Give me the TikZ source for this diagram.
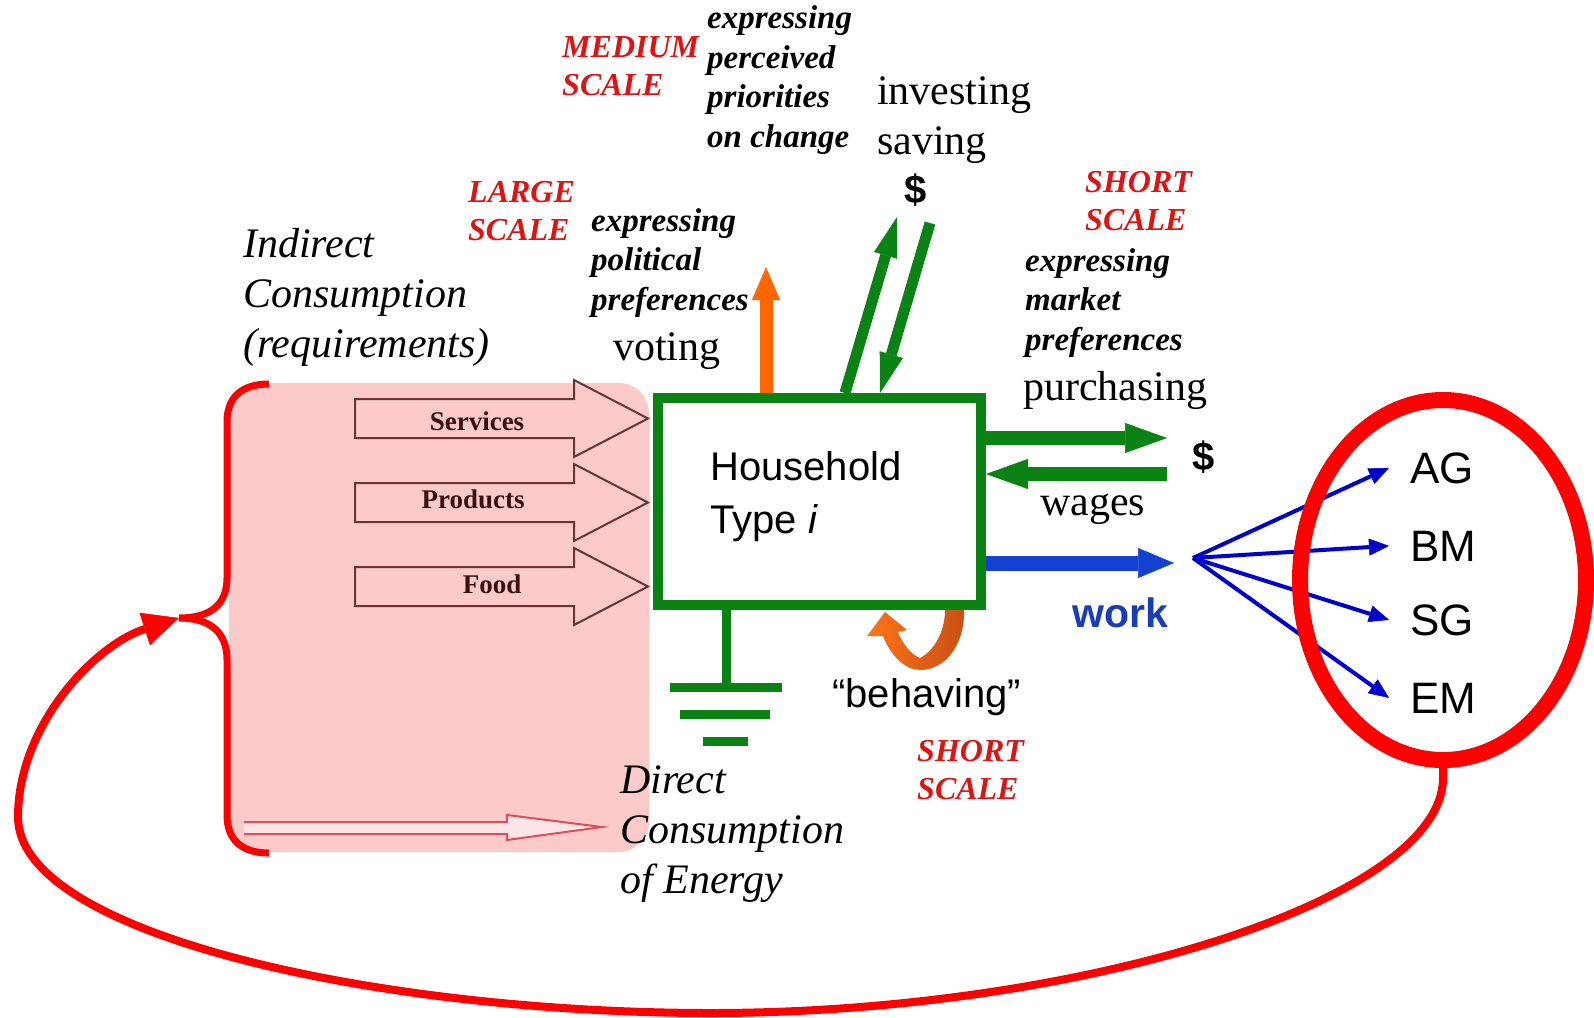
\documentclass[tikz,border=0pt]{standalone}
\usepackage{fontspec}
\setmainfont{Liberation Serif}
\newfontfamily\arialfont{Liberation Sans}
\usetikzlibrary{arrows.meta,shapes.geometric,calc}

\definecolor{hgreen}{RGB}{10,130,20}
\definecolor{scalered}{RGB}{220,20,20}
\definecolor{loopred}{RGB}{255,0,0}
\definecolor{pinkbg}{RGB}{253,202,202}
\definecolor{flowbrown}{RGB}{110,50,50}
\definecolor{flowtext}{RGB}{60,15,15}
\definecolor{energyred}{RGB}{215,80,95}
\definecolor{voteorange}{RGB}{255,102,0}
\definecolor{behavelight}{RGB}{255,115,25}
\definecolor{behavedark}{RGB}{200,80,20}
\definecolor{fanblue}{RGB}{0,0,205}
\definecolor{workblue}{RGB}{20,65,210}
\definecolor{worktext}{RGB}{25,60,185}

\begin{document}
\begin{tikzpicture}[x=1pt,y=-1pt,
  txt/.style={inner sep=0pt, anchor=base west, align=left},
  scalelbl/.style={txt, text=scalered, font=\bfseries\itshape\fontsize{32}{38}\selectfont},
  expr/.style={txt, font=\bfseries\itshape\fontsize{33}{39.5}\selectfont},
  act/.style={txt, font=\fontsize{42}{50}\selectfont},
  cons/.style={txt, font=\itshape\fontsize{42}{50}\selectfont},
  sans/.style={txt, font=\arialfont\fontsize{40}{53}\selectfont},
  flowlbl/.style={inner sep=0pt, anchor=base, text=flowtext, font=\bfseries\fontsize{27}{30}\selectfont},
  sector/.style={inner sep=0pt, anchor=base west, font=\arialfont\fontsize{44}{50}\selectfont},
  dollar/.style={inner sep=0pt, font=\arialfont\bfseries\fontsize{40}{44}\selectfont},
  flowarrow/.style={draw=flowbrown, line width=2pt, line join=miter},
  greenflow/.style={draw=hgreen, line width=14pt, -{Triangle[length=42pt,width=30pt,line width=0.5pt]}},
  greenslant/.style={draw=hgreen, line width=11pt, -{Triangle[length=40pt,width=24pt,line width=0.5pt]}},
  fanarrow/.style={draw=fanblue, line width=4pt, -{Triangle[length=20pt,width=17pt,line width=0.5pt]}},
  groundbar/.style={draw=hgreen, line width=9pt}
]
\useasboundingbox (0,0) rectangle (1594,1017);

% shaded area of indirect consumption
\fill[pinkbg, rounded corners=30pt] (229,383) rectangle (649,852);

% block arrows for the consumed goods
\foreach \c in {418.5,502.5,586.5}
  \draw[flowarrow] (355,\c-19.5) -- (574,\c-19.5) -- (574,\c-38.5) -- (648,\c)
    -- (574,\c+38.5) -- (574,\c+19.5) -- (355,\c+19.5) -- cycle;
\node[flowlbl] (svc) at (477,430) {Services};
\node[flowlbl] (prd) at (473,508) {Products};
\node[flowlbl] (fd)  at (492,593) {Food};

% thin energy arrow
\draw[energyred, line width=2pt, fill=pinkbg!50!white] (244,822) -- (507,822) -- (507,815)
  -- (602,827) -- (507,840) -- (507,834) -- (244,834);

% bracket around the consumption area
\coordinate (bracetip) at (179,618);
\draw[loopred, line width=7pt] (269,384) .. controls (242,384) and (227,397) .. (227,422)
  -- (227,578) .. controls (227,605) and (210,618) .. (bracetip)
  .. controls (210,618) and (227,632) .. (227,660)
  -- (227,815) .. controls (227,840) and (242,853) .. (269,853);

% "behaving" loop below the household
\shade[left color=behavelight, right color=behavedark]
  (964,606) .. controls (966,645) and (945,670) .. (920,670)
  .. controls (905,670) and (890,655) .. (883,636)
  -- (867,636) -- (885,612) -- (907,630) -- (898,632)
  .. controls (903,645) and (912,655) .. (920,658)
  .. controls (935,650) and (946,630) .. (945,606) -- cycle;

% household box
\node[draw=hgreen, line width=10pt, minimum width=323pt, minimum height=207pt, inner sep=0pt]
  (hh) at (819.5,501.5) {};
\node[sans] (hhlabel) at (710,533) {Household\\Type \textit{i}};

% ground symbol
\coordinate (gnd) at (726,687);
\draw[hgreen, line width=9pt] ($(hh.south)+(-93.5,0)$) -- (gnd);
\draw[groundbar] (670,687) -- (782,687);
\draw[groundbar] (680,714) -- (770,714);
\draw[groundbar] (703,741) -- (748,741);

% voting
\coordinate (votetip) at (766,267);
\draw[voteorange, line width=13pt, -{Triangle[length=33pt,width=28pt,line width=0.5pt]}]
  ($(hh.north)+(-53.5,0)$) -- (votetip);

% investing / saving
\coordinate (invtip) at (897,217);
\coordinate (savestart) at (930,223);
\draw[greenslant] ($(hh.north)+(25.5,0)$) -- (invtip);
\draw[greenslant] (savestart) -- ($(hh.north)+(60.5,0)$);
\node[dollar] (dtop) at (916,190) {\$};

% purchasing / wages / work
\coordinate (purch) at (1167,438);
\coordinate (wagein) at (1167,474);
\coordinate (worktip) at (1174,563);
\draw[greenflow] (hh.east |- purch) -- (purch);
\draw[greenflow] (wagein) -- (hh.east |- wagein);
\draw[workblue, line width=15pt, -{Triangle[length=36pt,width=30pt,line width=0.5pt]}]
  (hh.east |- worktip) -- (worktip);
\node[dollar] (dright) at (1204,457) {\$};

% economic sectors
\node[sector] (ag) at (1410,483) {AG};
\node[sector] (bm) at (1410,561) {BM};
\node[sector] (sg) at (1410,635) {SG};
\node[sector] (em) at (1410,713) {EM};
\coordinate (fan) at (1193,558);
\foreach \s in {ag,bm,sg,em}
  \draw[fanarrow] (fan) -- ([xshift=-21pt]\s.west);
\node[draw=loopred, line width=16pt, ellipse, minimum width=286pt, minimum height=360pt, inner sep=0pt]
  (sectors) at (1443,580) {};

% feedback loop from the sectors back to consumption
\draw[loopred, line width=8pt, -{Triangle[length=36pt,width=34pt,line width=0.5pt]}]
  (sectors.south) -- ++(0,10)
  .. controls (1443,900) and (1080,1013) .. (711,1013)
  .. controls (380,1013) and (18,935) .. (18,817)
  .. controls (18,725) and (95,645) .. (bracetip);

% labels
\node[scalelbl] (medium) at (562,95) {MEDIUM\\SCALE};
\node[expr] (medexp) at (707,147) {expressing\\perceived\\priorities\\on change};
\node[act] (invest) at (877,154) {investing\\saving};
\node[scalelbl] (large) at (468,240) {LARGE\\SCALE};
\node[expr] (polexp) at (591,310) {expressing\\political\\preferences};
\node[act] (voting) at (613,360) {voting};
\node[cons] (indirect) at (243,357) {Indirect\\Consumption\\(requirements)};
\node[scalelbl] (shorttop) at (1085,230) {SHORT\\SCALE};
\node[expr] (mktexp) at (1025,350) {expressing\\market\\preferences};
\node[act] (purchasing) at (1023,400) {purchasing};
\node[act] (wages) at (1040,515) {wages};
\node[txt, text=worktext, font=\arialfont\bfseries\fontsize{41}{48}\selectfont] (work) at (1072,627) {work};
\node[sans] (behaving) at (832,707) {“behaving”};
\node[scalelbl] (shortbot) at (917,799) {SHORT\\SCALE};
\node[cons] (direct) at (620,893) {Direct\\Consumption\\of Energy};
\end{tikzpicture}
\end{document}
